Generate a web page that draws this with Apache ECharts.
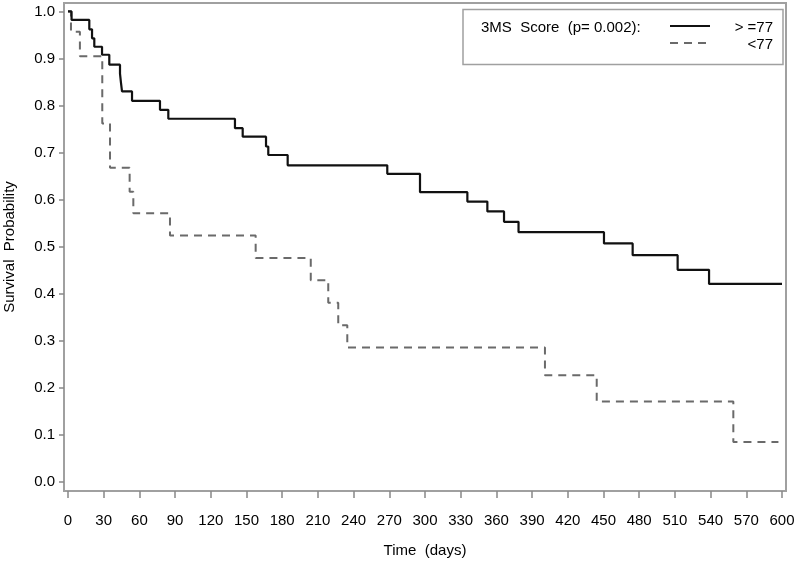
<!DOCTYPE html>
<html>
<head>
<meta charset="utf-8">
<script src="https://cdn.jsdelivr.net/npm/echarts@6/dist/echarts.min.js"></script>
<style>
html,body{margin:0;padding:0;background:#fff;}
#chart{width:796px;height:564px;}
</style>
</head>
<body>
<div id="chart"></div>
<script>
// Group ">=77" (solid): event times (days) and survival after each time
var highTimes = [0, 3, 17.9, 20.2, 22.1, 28.6, 34.7, 43.7, 44.5, 45.4, 53.8, 77.3, 84.3, 140.3, 146.8, 166.4, 168.3, 184.6, 268.3, 295.8, 335.6, 352.4, 366.4, 378.6, 450.4, 474.5, 512.3, 538.7, 600];
var highSurv  = [1.0, 0.982, 0.962, 0.943, 0.925, 0.908, 0.887, 0.868, 0.849, 0.830, 0.810, 0.791, 0.772, 0.752, 0.734, 0.713, 0.695, 0.673, 0.655, 0.616, 0.596, 0.575, 0.553, 0.531, 0.507, 0.482, 0.451, 0.421, 0.421];
// Group "<77" (dashed)
var lowTimes = [0, 2.5, 10, 28.8, 35.3, 51.8, 54.9, 85.7, 157.7, 204, 218.7, 227.1, 234.7, 400.8, 444.3, 559.1, 597];
var lowSurv  = [1.0, 0.957, 0.905, 0.762, 0.668, 0.617, 0.571, 0.524, 0.476, 0.429, 0.381, 0.333, 0.286, 0.227, 0.171, 0.085, 0.085];

var xTicks = [0, 30, 60, 90, 120, 150, 180, 210, 240, 270, 300, 330, 360, 390, 420, 450, 480, 510, 540, 570, 600];
var yTicks = [0, 0.1, 0.2, 0.3, 0.4, 0.5, 0.6, 0.7, 0.8, 0.9, 1.0];

var legendTitle = '3MS  Score  (p= 0.002):';
var seriesNames = ['> =77', '<77'];
var xTitle = 'Time  (days)';
var yTitle = 'Survival  Probability';

function zip(a, b) { return a.map(function (v, i) { return [v, b[i]]; }); }

var FONT = '"Liberation Sans", Arial, sans-serif';
var TXT = '#000';
var chart = echarts.init(document.getElementById('chart'), null, {renderer: 'canvas'});
chart.setOption({
  animation: false,
  backgroundColor: '#fff',
  grid: {left: 64, right: 10, top: 3, bottom: 73, show: true, borderColor: '#a0a0a0', borderWidth: 2,
         containLabel: false, outerBoundsMode: 'none'},
  xAxis: {
    type: 'value', min: -3.36, max: 603.36,
    axisLine: {show: true, onZero: false, lineStyle: {color: '#a0a0a0', width: 2}},
    axisTick: {show: true, customValues: xTicks, length: 7, lineStyle: {color: '#888', width: 1.5}},
    axisLabel: {customValues: xTicks, margin: 22, fontSize: 15, color: TXT, fontFamily: FONT},
    splitLine: {show: false},
    name: xTitle, nameLocation: 'middle', nameGap: 52,
    nameTextStyle: {fontSize: 15, color: TXT, fontFamily: FONT}
  },
  yAxis: {
    type: 'value', min: -0.0191, max: 1.018,
    axisLine: {show: true, onZero: false, lineStyle: {color: '#a0a0a0', width: 2}},
    axisTick: {show: true, customValues: yTicks, length: 5, lineStyle: {color: '#888', width: 1.5}},
    axisLabel: {customValues: yTicks, margin: 9, fontSize: 15, color: TXT, fontFamily: FONT,
      formatter: function (v) { return v.toFixed(1); }},
    splitLine: {show: false},
    name: yTitle, nameLocation: 'middle', nameGap: 47, nameRotate: 90,
    nameTextStyle: {fontSize: 15, color: TXT, fontFamily: FONT}
  },
  series: [
    {name: seriesNames[0], type: 'line', step: 'end', symbol: 'none',
     data: zip(highTimes, highSurv),
     lineStyle: {color: '#111', width: 2.2}, z: 3},
    {name: seriesNames[1], type: 'line', step: 'end', symbol: 'none',
     data: zip(lowTimes, lowSurv),
     lineStyle: {color: '#6a6a6a', width: 2, type: [8, 6]}, z: 2}
  ],
  graphic: [
    {type: 'rect', shape: {x: 463, y: 9.5, width: 320, height: 55}, style: {fill: '#fff', stroke: '#a0a0a0', lineWidth: 1.5}, z: 10},
    {type: 'text', x: 481, y: 28, style: {text: legendTitle, font: '15px ' + FONT, fill: TXT, verticalAlign: 'middle'}, z: 11},
    {type: 'line', shape: {x1: 670, y1: 26, x2: 710, y2: 26}, style: {stroke: '#111', lineWidth: 2}, z: 11},
    {type: 'line', shape: {x1: 670, y1: 43, x2: 710, y2: 43}, style: {stroke: '#6a6a6a', lineWidth: 2, lineDash: [8, 6]}, z: 11},
    {type: 'text', x: 773, y: 28, style: {text: seriesNames[0], font: '15px ' + FONT, fill: TXT, align: 'right', verticalAlign: 'middle'}, z: 11},
    {type: 'text', x: 773, y: 45, style: {text: seriesNames[1], font: '15px ' + FONT, fill: TXT, align: 'right', verticalAlign: 'middle'}, z: 11}
  ]
});
</script>
</body>
</html>
